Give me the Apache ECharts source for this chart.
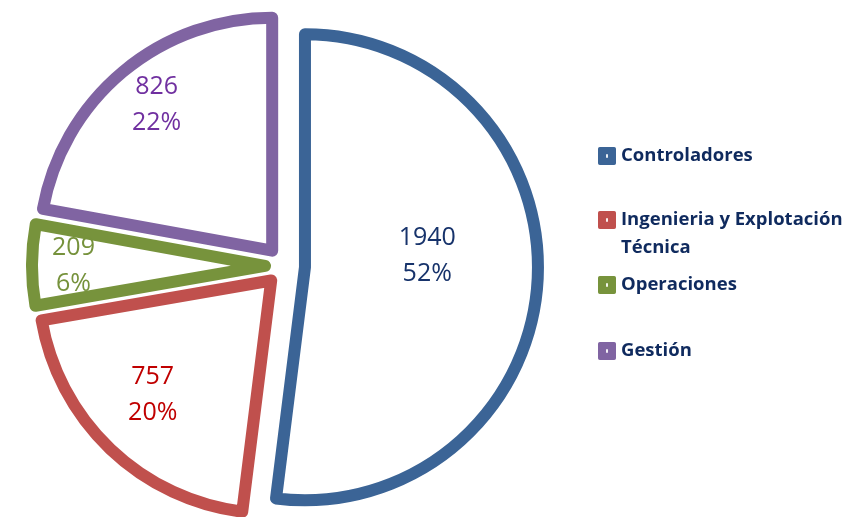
<!DOCTYPE html>
<html>
<head>
<meta charset="utf-8">
<script src="https://cdn.jsdelivr.net/npm/echarts@6/dist/echarts.min.js"></script>
<style>
  html, body { margin: 0; padding: 0; background: #fff; }
  #chart { width: 861px; height: 517px; }
</style>
</head>
<body>
<div id="chart"></div>
<script>
var categories = ['Controladores', 'Ingenieria y Explotación\nTécnica', 'Operaciones', 'Gestión'];
var values = [1940, 757, 209, 826];
var percents = ['52%', '20%', '6%', '22%'];

var lineColors = ['#3b6496', '#c0504d', '#77933c', '#8064a2'];
var labelColors = ['#17336b', '#c00000', '#76923c', '#7030a0'];
// nudge of each inside label from the slice middle
var labelShift = [[3, -19], [-36, 28], [-72, 0], [-39, -54]];
var legendTops = [142, 178, 271, 337];

var dotIcon = 'path://M2,0H18A2,2 0 0 1 20,2V18A2,2 0 0 1 18,20H2A2,2 0 0 1 0,18V2A2,2 0 0 1 2,0ZM9,8V12H11V8Z';

var pieData = categories.map((name, i) => ({
    name: name,
    value: values[i],
    selected: true,
    itemStyle: {
        color: '#fff',
        borderColor: lineColors[i],
        borderWidth: 12,
        borderJoin: 'round'
    },
    label: {
        color: labelColors[i]
    }
}));

// two-line names get an empty first line so the real first line sits beside the icon
var legends = categories.map((name, i) => ({
    orient: 'vertical',
    left: 598,
    top: legendTops[i],
    padding: 0,
    itemWidth: 18,
    itemHeight: 18,
    itemGap: 5,
    icon: dotIcon,
    selectedMode: false,
    data: [{
        name: name,
        itemStyle: { color: lineColors[i], borderWidth: 0 }
    }],
    formatter: (n) => n.indexOf('\n') >= 0 ? ' \n' + n : n,
    textStyle: {
        fontFamily: 'Open Sans',
        fontWeight: 'bold',
        fontSize: 18.5,
        lineHeight: 28,
        color: '#0f2a5e'
    }
}));

var chart = echarts.init(document.getElementById('chart'));
chart.setOption({
    animation: false,
    legend: legends,
    series: [{
        type: 'pie',
        center: [285, 266],
        radius: 233,
        startAngle: 90,
        clockwise: true,
        selectedMode: 'multiple',
        selectedOffset: 20,
        emphasis: { disabled: true },
        label: {
            show: true,
            position: 'inside',
            fontFamily: 'Open Sans',
            fontSize: 25,
            lineHeight: 36,
            formatter: (p) => p.value + '\n' + percents[p.dataIndex]
        },
        labelLayout: (p) => ({
            dx: labelShift[p.dataIndex][0],
            dy: labelShift[p.dataIndex][1]
        }),
        data: pieData
    }]
});
</script>
</body>
</html>
